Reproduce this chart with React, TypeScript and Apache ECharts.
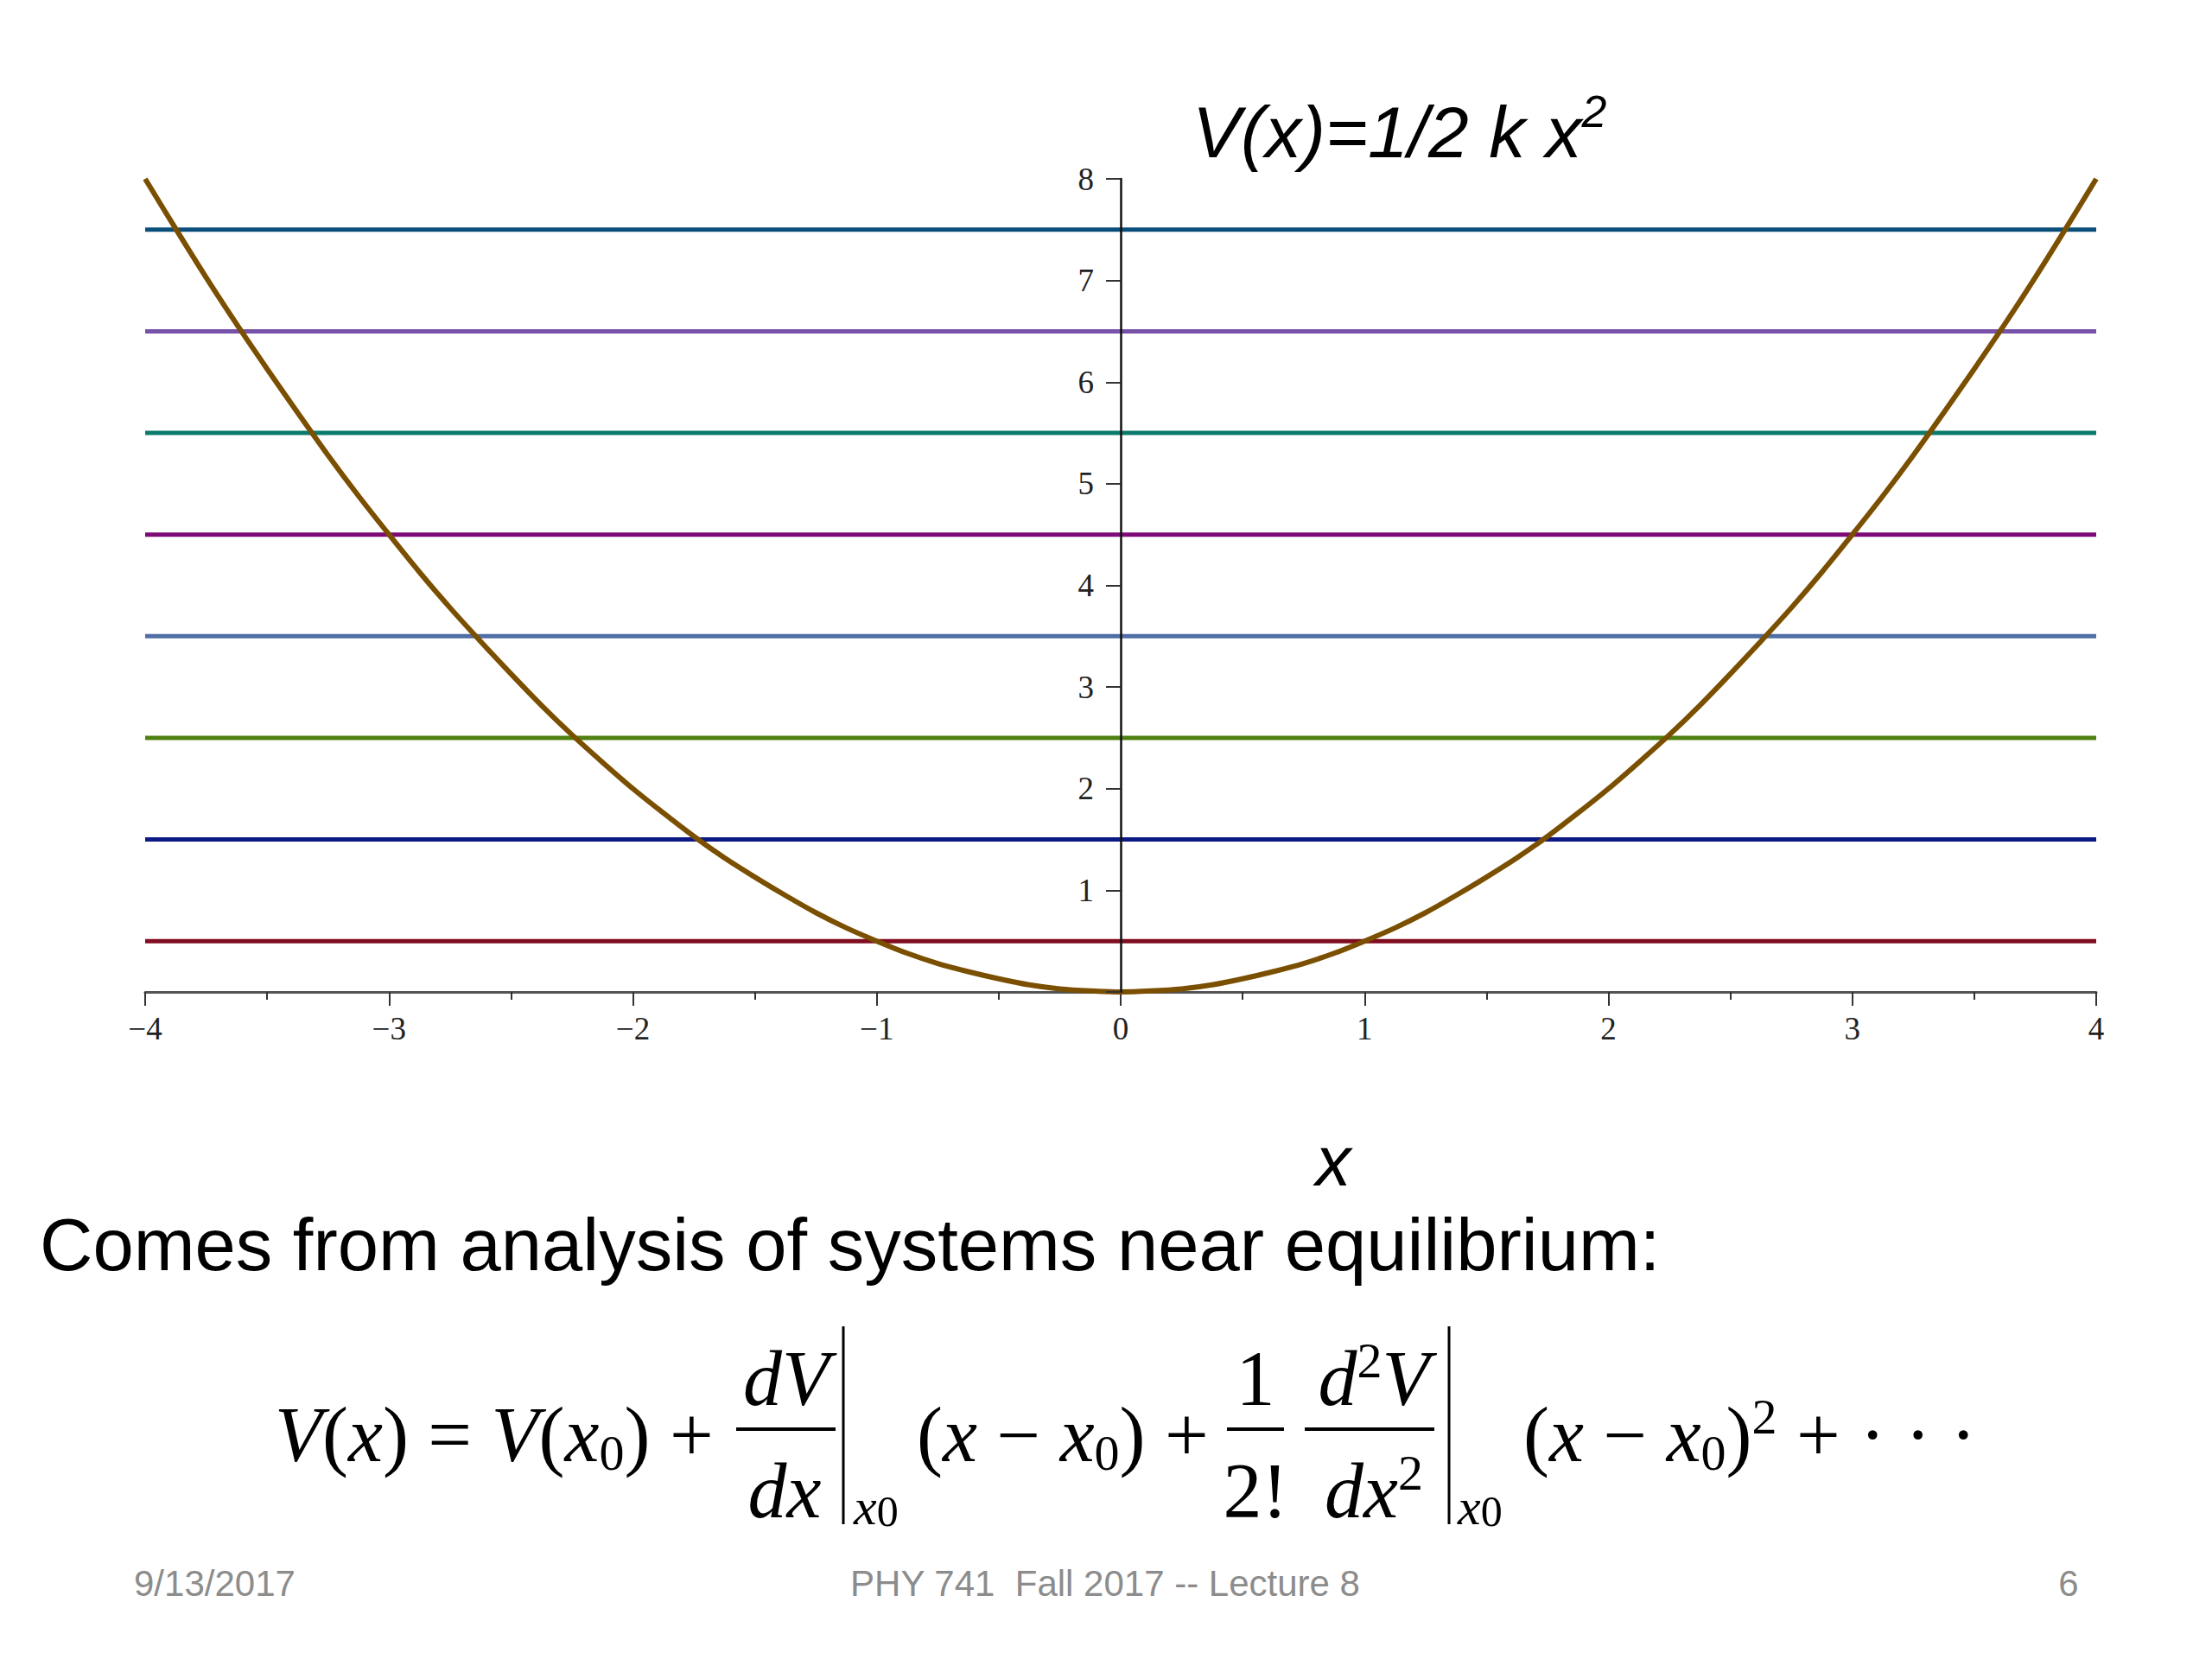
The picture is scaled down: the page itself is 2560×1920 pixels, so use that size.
import React, { useEffect, useRef } from "react";
import * as echarts from "echarts";

// ---- data ----
const xAxisRange = [-4, 4];
const yAxisRange = [0, 8];
const yAxisAt = 0;
const levelValues = [0.5, 1.5, 2.5, 3.5, 4.5, 5.5, 6.5, 7.5];
const levelSpan = [-4, 4];
const curveX = [
  -4, -3.875, -3.75, -3.625, -3.5, -3.375, -3.25, -3.125, -3, -2.875, -2.75, -2.625, -2.5, -2.375, -2.25, -2.125,
  -2, -1.875, -1.75, -1.625, -1.5, -1.375, -1.25, -1.125, -1, -0.875, -0.75, -0.625, -0.5, -0.375, -0.25, -0.125,
  0, 0.125, 0.25, 0.375, 0.5, 0.625, 0.75, 0.875, 1, 1.125, 1.25, 1.375, 1.5, 1.625, 1.75, 1.875,
  2, 2.125, 2.25, 2.375, 2.5, 2.625, 2.75, 2.875, 3, 3.125, 3.25, 3.375, 3.5, 3.625, 3.75, 3.875, 4,
];
const curveV = [
  8, 7.51, 7.03, 6.57, 6.13, 5.7, 5.28, 4.88, 4.5, 4.13, 3.78, 3.45, 3.13, 2.82, 2.53, 2.26,
  2, 1.76, 1.53, 1.32, 1.13, 0.95, 0.78, 0.63, 0.5, 0.38, 0.28, 0.2, 0.13, 0.07, 0.03, 0.01,
  0, 0.01, 0.03, 0.07, 0.13, 0.2, 0.28, 0.38, 0.5, 0.63, 0.78, 0.95, 1.13, 1.32, 1.53, 1.76,
  2, 2.26, 2.53, 2.82, 3.13, 3.45, 3.78, 4.13, 4.5, 4.88, 5.28, 5.7, 6.13, 6.57, 7.03, 7.51, 8,
];

// ---- styles ----
const levelColors = ["#7f0d1f", "#0d1a86", "#4f8010", "#4f6ea5", "#7d0a78", "#0a7a6c", "#7852a8", "#0a4f7a"];
const curveColor = "#7a4f00";
const SERIF = "Liberation Serif";
const SANS = "Liberation Sans";

const tok = (size: number, lh: number, va: string, italic: boolean) => ({
  fontFamily: SERIF,
  fontStyle: italic ? "italic" : "normal",
  fontSize: size,
  lineHeight: lh,
  verticalAlign: va,
  fill: "#000",
});

const mathRich = {
  i: tok(90, 100, "middle", true),
  u: tok(90, 100, "middle", false),
  s: tok(58, 44, "bottom", false),
  p: tok(58, 50, "top", false),
  sx: tok(60, 60, "top", true),
  s0: tok(50, 40, "bottom", false),
};

const mathText = (x: number, y: number, text: string, align = "left") => ({
  type: "text",
  x,
  y,
  style: { text, align, verticalAlign: "middle", rich: mathRich },
});

const bar = (x1: number, y1: number, x2: number, y2: number, w: number) => ({
  type: "line",
  shape: { x1, y1, x2, y2 },
  style: { stroke: "#000", lineWidth: w },
});

const GRID_LEFT = 168;
const GRID_RIGHT = 134;
const W = 2560;

export default function App() {
  const ref = useRef<HTMLDivElement>(null);
  useEffect(() => {
    if (!ref.current) return;
    const chart = echarts.init(ref.current, null, { renderer: "svg" });

    const levelSeries = levelValues.map((v, i) => ({
      type: "line",
      data: levelSpan.map((x) => [x, v]),
      symbol: "none",
      lineStyle: { color: levelColors[i], width: 5 },
      silent: true,
      z: 2,
    }));

    const curveSeries = {
      type: "line",
      data: curveX.map((x, i) => [x, curveV[i]]),
      symbol: "none",
      smooth: 0.3,
      lineStyle: { color: curveColor, width: 6 },
      silent: true,
      z: 4,
    };

    // place the y axis at x = yAxisAt
    const plotW = W - GRID_LEFT - GRID_RIGHT;
    const yOffset = -((yAxisAt - xAxisRange[0]) / (xAxisRange[1] - xAxisRange[0])) * plotW;

    const minusFmt = (v: number) => (v < 0 ? "\u2212" + Math.abs(v) : String(v));

    chart.setOption({
      animation: false,
      backgroundColor: "#ffffff",
      grid: { left: GRID_LEFT, right: GRID_RIGHT, top: 207, bottom: 772 },
      xAxis: {
        type: "value",
        min: xAxisRange[0],
        max: xAxisRange[1],
        interval: 1,
        axisLine: { onZero: false, lineStyle: { color: "#555", width: 3 } },
        axisTick: { show: true, inside: false, length: 16, lineStyle: { color: "#333", width: 2 } },
        minorTick: { show: true, splitNumber: 2, length: 9, lineStyle: { color: "#333", width: 2 } },
        splitLine: { show: false },
        axisLabel: {
          formatter: minusFmt,
          fontFamily: SERIF,
          fontSize: 37,
          color: "#222",
          margin: 24,
        },
      },
      yAxis: {
        type: "value",
        min: yAxisRange[0],
        max: yAxisRange[1],
        interval: 1,
        position: "left",
        offset: yOffset,
        z: 5,
        axisLine: { onZero: false, lineStyle: { color: "#111", width: 2.5 } },
        axisTick: { show: true, inside: false, length: 17, lineStyle: { color: "#333", width: 2 } },
        splitLine: { show: false },
        axisLabel: {
          formatter: (v: number) => (v === 0 ? "" : String(v)),
          fontFamily: SERIF,
          fontSize: 37,
          color: "#222",
          margin: 31,
        },
      },
      series: [...levelSeries, curveSeries],
      graphic: [
        // title
        {
          type: "text",
          x: 1380,
          y: 153,
          style: {
            text: "{m|V(x)=1/2 k x}{p|2}",
            align: "left",
            verticalAlign: "middle",
            rich: {
              m: { fontFamily: SANS, fontStyle: "italic", fontSize: 84, lineHeight: 100, verticalAlign: "middle", fill: "#000" },
              p: { fontFamily: SANS, fontStyle: "italic", fontSize: 52, lineHeight: 64, verticalAlign: "top", fill: "#000" },
            },
          },
        },
        // x label
        {
          type: "text",
          x: 1543,
          y: 1343,
          style: { text: "x", fontFamily: SANS, fontStyle: "italic", fontSize: 82, fill: "#000", align: "center", verticalAlign: "middle" },
        },
        // sentence
        {
          type: "text",
          x: 46,
          y: 1440,
          style: { text: "Comes from analysis of systems near equilibrium:", fontFamily: SANS, fontSize: 85, fill: "#000", align: "left", verticalAlign: "middle" },
        },
        // formula
        mathText(318, 1660, "{i|V}{u|(}{i|x}{u|)}{u| = }{i|V}{u|(}{i|x}{s|0}{u|) +}"),
        mathText(910, 1595, "{i|dV}", "center"),
        bar(852, 1654, 967, 1654, 4),
        mathText(908, 1725, "{i|dx}", "center"),
        bar(976, 1535, 976, 1764, 3),
        mathText(988, 1744, "{sx|x}{s0|0}"),
        mathText(1061, 1660, "{u|(}{i|x}{u| \u2212 }{i|x}{s|0}{u|) +}"),
        mathText(1453, 1595, "{u|1}", "center"),
        bar(1420, 1654, 1486, 1654, 4),
        mathText(1453, 1725, "{u|2!}", "center"),
        mathText(1590, 1595, "{i|d}{p|2}{i|V}", "center"),
        bar(1510, 1654, 1660, 1654, 4),
        mathText(1590, 1725, "{i|dx}{p|2}", "center"),
        bar(1677, 1535, 1677, 1764, 3),
        mathText(1687, 1744, "{sx|x}{s0|0}"),
        mathText(1763, 1660, "{u|(}{i|x}{u| \u2212 }{i|x}{s|0}{u|)}{p|2}{u| + \u00b7 \u00b7 \u00b7}"),
        // footer
        {
          type: "text",
          x: 155,
          y: 1832,
          style: { text: "9/13/2017", fontFamily: SANS, fontSize: 42, fill: "#8c8c8c", align: "left", verticalAlign: "middle" },
        },
        {
          type: "text",
          x: 1279,
          y: 1832,
          style: { text: "PHY 741  Fall 2017 -- Lecture 8", fontFamily: SANS, fontSize: 42, fill: "#8c8c8c", align: "center", verticalAlign: "middle" },
        },
        {
          type: "text",
          x: 2394,
          y: 1832,
          style: { text: "6", fontFamily: SANS, fontSize: 42, fill: "#8c8c8c", align: "center", verticalAlign: "middle" },
        },
      ],
    });
    return () => chart.dispose();
  }, []);

  return (
    <div
      ref={ref}
      style={{ position: "absolute", left: 0, top: 0, width: 2560, height: 1920, background: "#fff" }}
    />
  );
}
